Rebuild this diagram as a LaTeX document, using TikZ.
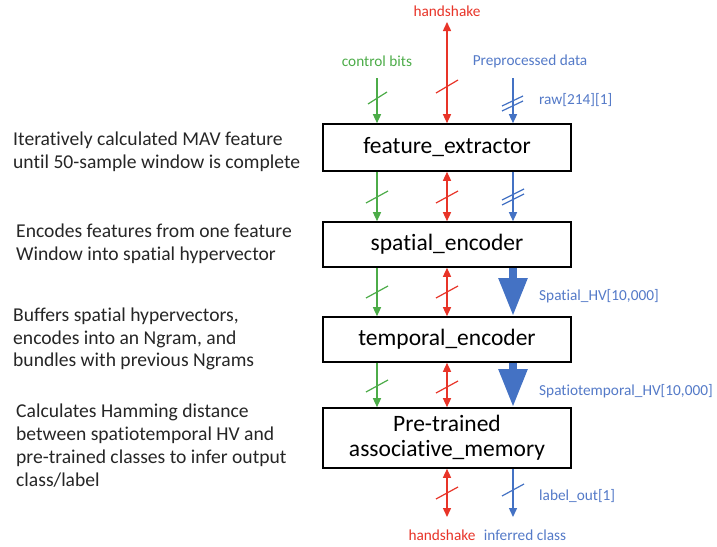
\documentclass[tikz,border=0pt]{standalone}
\usepackage{fontspec}
\setmainfont[Ligatures=NoCommon]{Carlito}
\usetikzlibrary{arrows.meta,calc}
\definecolor{cgreen}{RGB}{76,172,72}
\definecolor{cred}{RGB}{232,52,40}
\definecolor{cblue}{RGB}{68,114,196}
\definecolor{lblue}{RGB}{84,122,200}
\begin{document}
\begin{tikzpicture}[x=1pt,y=-1pt,
  >={Triangle[length=9pt,width=8pt]},
  blk/.style={draw=black,line width=1.6pt,minimum width=248pt,inner sep=0pt,font=\fontsize{23.5}{26}\selectfont,align=center},
  note/.style={anchor=west,align=left,inner sep=0pt,font=\fontsize{19.6}{22.8}\selectfont,text=black!85},
  lab/.style={inner sep=0pt,font=\fontsize{15.3}{17}\selectfont},
  sig/.style={line width=1.4pt},
  gsig/.style={sig,draw=cgreen,->},
  rsig/.style={sig,draw=cred,<->},
  bsig/.style={sig,draw=cblue,->},
  fat/.style={draw=cblue,line width=8pt,-{Triangle[length=38pt,width=27pt]}},
  slash/.style={line width=1.2pt}
]
\path[use as bounding box,fill=white] (0,0) rectangle (717,546);

% boxes
\node[blk,minimum height=47pt] (fe) at (447,147.5) {feature\_extractor};
\node[blk,minimum height=45pt] (se) at (447,244.5) {spatial\_encoder};
\node[blk,minimum height=45pt] (te) at (447,339.5) {temporal\_encoder};
\node[blk,minimum height=60pt] (am) at (447,438) {Pre-trained\\[-1pt]associative\_memory};

% free ends
\coordinate (gTop) at (377,78);
\coordinate (rTop) at (447,22);
\coordinate (bTop) at (513,78);
\coordinate (rBot) at (447,517);
\coordinate (bBot) at (513,517);

% top labels
\node[lab,text=cred] (hs1) at (447,11) {handshake};
\node[lab,text=cgreen] (cb) at (377,61) {control bits};
\node[lab,text=lblue] (pd) at (530,61) {Preprocessed data};
\node[lab,text=lblue,anchor=west] (raw) at (539,100) {raw[214][1]};

% top inputs
\draw[gsig] (gTop) -- (fe.north -| gTop);
\draw[rsig] (rTop) -- (fe.north -| rTop);
\draw[bsig] (bTop) -- (fe.north -| bTop);
\draw[cgreen,slash] (368,104) -- (387,92);
\draw[cred,slash] (436,93) -- (458,80);
\draw[cblue,slash] (502,106) -- (523,96);
\draw[cblue,slash] (502,111) -- (523,101);

% fe -> se
\draw[gsig] (fe.south -| gTop) -- (se.north -| gTop);
\draw[rsig] (fe.south -| rTop) -- (se.north -| rTop);
\draw[bsig] (fe.south -| bTop) -- (se.north -| bTop);
\draw[cgreen,slash] (366,203) -- (388,191);
\draw[cred,slash] (436,203) -- (458,191);
\draw[cblue,slash] (502,200) -- (524,189);
\draw[cblue,slash] (502,205) -- (524,194);

% se -> te
\draw[gsig] (se.south -| gTop) -- (te.north -| gTop);
\draw[rsig] (se.south -| rTop) -- (te.north -| rTop);
\draw[fat] (se.south -| bTop) -- (te.north -| bTop);
\draw[cgreen,slash] (366,298) -- (388,286);
\draw[cred,slash] (436,298) -- (458,286);
\node[lab,text=lblue,anchor=west] (shv) at (539,296) {Spatial\_HV[10,000]};

% te -> am
\draw[gsig] (te.south -| gTop) -- (am.north -| gTop);
\draw[rsig] (te.south -| rTop) -- (am.north -| rTop);
\draw[fat] (te.south -| bTop) -- (am.north -| bTop);
\draw[cgreen,slash] (366,392) -- (388,380);
\draw[cred,slash] (436,393) -- (458,381);
\node[lab,text=lblue,anchor=west] (sthv) at (539,391) {Spatiotemporal\_HV[10,000]};

% outputs
\draw[rsig] (am.south -| rTop) -- (rBot);
\draw[bsig] (am.south -| bTop) -- (bBot);
\draw[cred,slash] (436,499) -- (458,487);
\draw[cblue,slash] (502,496) -- (524,484);
\node[lab,text=lblue,anchor=west] (lo) at (539,496) {label\_out[1]};
\node[lab,text=cred] (hs2) at (442,535) {handshake};
\node[lab,text=lblue] (ic) at (525,535) {inferred class};

% notes
\node[note] (n1) at (13,151.5) {Iteratively calculated MAV feature\\until 50-sample window is complete};
\node[note] (n2) at (16,244) {Encodes features from one feature\\Window into spatial hypervector};
\node[note] (n3) at (13,339) {Buffers spatial hypervectors,\\encodes into an Ngram, and\\bundles with previous Ngrams};
\node[note] (n4) at (16,445.5) {Calculates Hamming distance\\between spatiotemporal HV and\\pre-trained classes to infer output\\class/label};
\end{tikzpicture}
\end{document}
